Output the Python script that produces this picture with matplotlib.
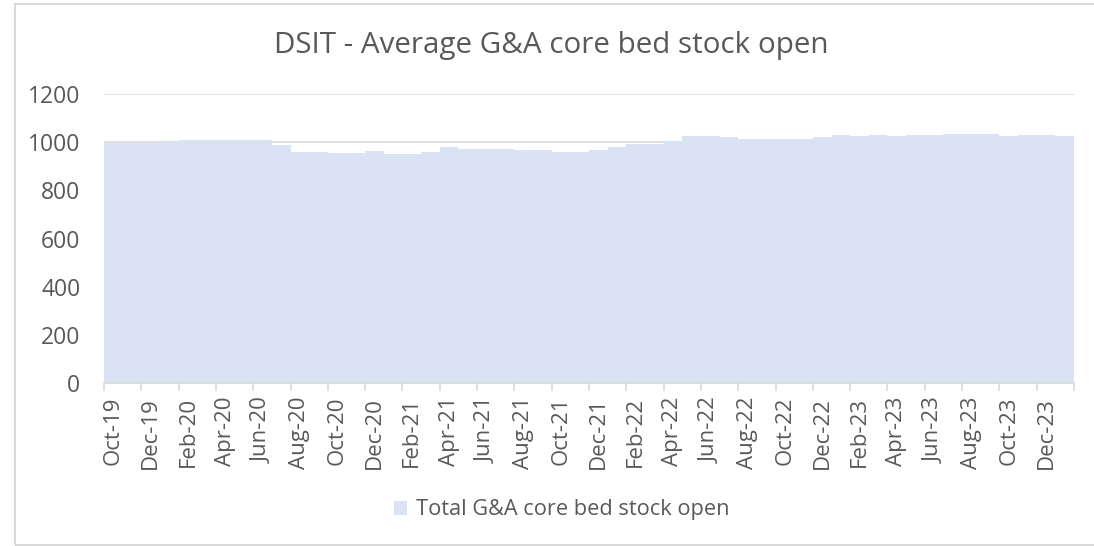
import matplotlib.pyplot as plt
from matplotlib.patches import Rectangle
import numpy as np

plt.rcParams["font.family"] = ["Open Sans", "DejaVu Sans"]

months = [
    "Oct-19", "Nov-19", "Dec-19",
    "Jan-20", "Feb-20", "Mar-20", "Apr-20", "May-20", "Jun-20",
    "Jul-20", "Aug-20", "Sep-20", "Oct-20", "Nov-20", "Dec-20",
    "Jan-21", "Feb-21", "Mar-21", "Apr-21", "May-21", "Jun-21",
    "Jul-21", "Aug-21", "Sep-21", "Oct-21", "Nov-21", "Dec-21",
    "Jan-22", "Feb-22", "Mar-22", "Apr-22", "May-22", "Jun-22",
    "Jul-22", "Aug-22", "Sep-22", "Oct-22", "Nov-22", "Dec-22",
    "Jan-23", "Feb-23", "Mar-23", "Apr-23", "May-23", "Jun-23",
    "Jul-23", "Aug-23", "Sep-23", "Oct-23", "Nov-23", "Dec-23",
    "Jan-24",
]
beds = [
    997, 997, 998,
    1002, 1008, 1009, 1009, 1009, 1008,
    988, 958, 958, 957, 954, 963,
    950, 950, 958, 981, 972, 972,
    971, 966, 966, 958, 958, 968,
    981, 992, 993, 1003, 1026, 1026,
    1020, 1013, 1013, 1013, 1013, 1020,
    1030, 1026, 1030, 1026, 1030, 1030,
    1034, 1034, 1034, 1026, 1030, 1030,
    1026,
]
series_name = "Total G&A core bed stock open"
title = "DSIT - Average G&A core bed stock open"

text_col = "#595959"
grid_col = "#d9d9d9"

fig = plt.figure(figsize=(10.94, 5.46), dpi=100)
ax = fig.add_axes([104 / 1094, 1 - 383 / 546, 970 / 1094, 289 / 546])

x = np.arange(len(months))
ax.bar(x, beds, width=1.0, color="#DAE3F3", label=series_name)

ax.set_xlim(-0.5, len(months) - 0.5)
ax.set_ylim(0, 1200)
ax.set_yticks(range(0, 1201, 200))
ax.set_axisbelow(True)
ax.grid(axis="y", color=grid_col, linewidth=1.2)

ax.set_xticks(x[::2])
ax.set_xticklabels(months[::2], rotation=90)
ax.set_xticks(np.arange(-0.5, len(months), 2), minor=True)
ax.tick_params(axis="x", which="major", length=0, pad=10, labelsize=16, labelcolor=text_col)
ax.tick_params(axis="x", which="minor", length=6, color=grid_col, width=1.2)
ax.tick_params(axis="y", length=0, pad=17, labelsize=16.5, labelcolor=text_col)

for side in ["top", "right", "left"]:
    ax.spines[side].set_visible(False)
ax.spines["bottom"].set_color(grid_col)
ax.spines["bottom"].set_linewidth(1.2)

fig.text(551 / 1094, 1 - 45 / 546, title, ha="center", va="center",
         fontsize=21.3, color=text_col)

fig.legend(loc="center", bbox_to_anchor=(562 / 1094, 1 - 510 / 546),
           frameon=False, fontsize=15.7, labelcolor=text_col,
           handlelength=0.6, handleheight=0.6, handletextpad=0.4)

fig.patches.append(Rectangle((15 / 1094, 1 / 546), 1.1, 1 - 5 / 546,
                             transform=fig.transFigure, fill=False,
                             edgecolor=grid_col, linewidth=1.5))

fig.savefig("out.png", dpi=100)
